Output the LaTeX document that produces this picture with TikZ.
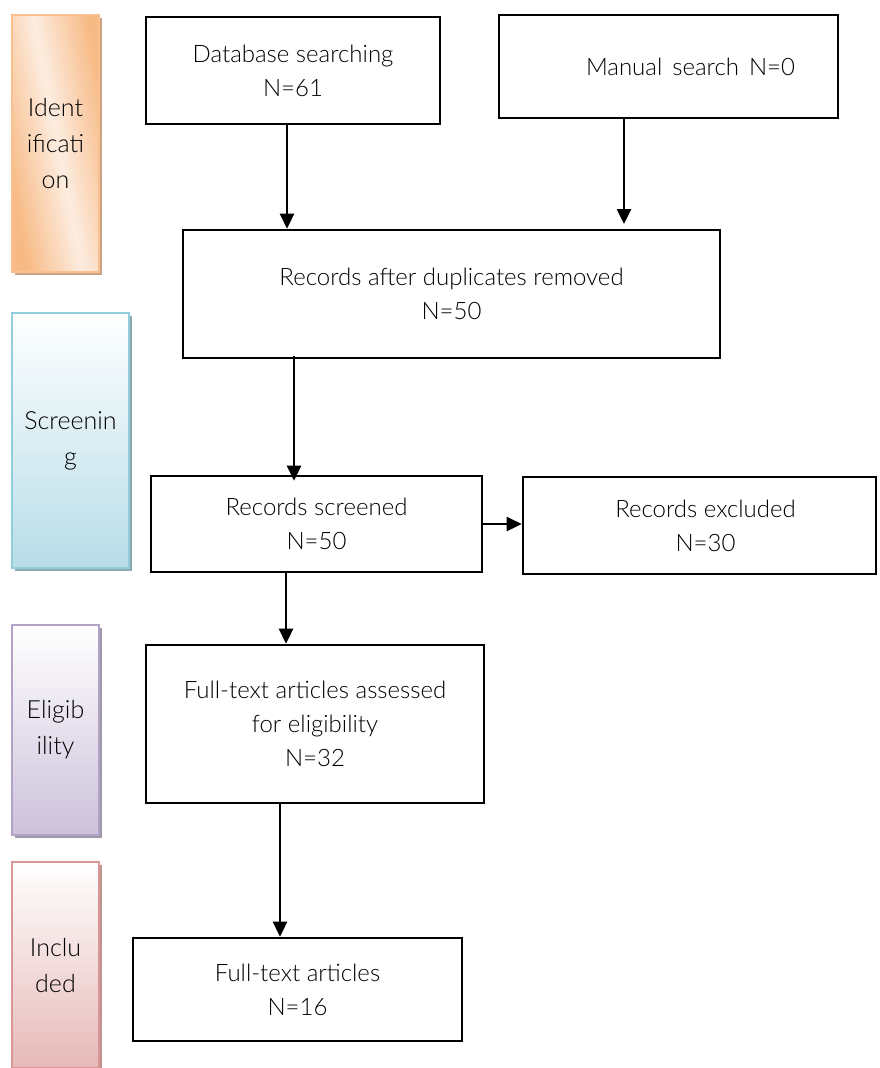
\documentclass[tikz,border=0pt]{standalone}
\usepackage{fontspec}
\setmainfont{Lato Light}
\usetikzlibrary{arrows.meta,positioning}
\definecolor{idOr}{HTML}{F7BA84}
\definecolor{idLt}{HTML}{FDEDE1}
\definecolor{idBd}{HTML}{FAC090}
\definecolor{idSh}{HTML}{C9A383}
\definecolor{scLt}{HTML}{B7DDE8}
\definecolor{scBd}{HTML}{92CDDC}
\definecolor{scSh}{HTML}{8FA7AE}
\definecolor{elLt}{HTML}{CCC1DA}
\definecolor{elBd}{HTML}{B3A2C7}
\definecolor{elSh}{HTML}{9E99A6}
\definecolor{inLt}{HTML}{E6B9B8}
\definecolor{inBd}{HTML}{D99694}
\definecolor{inSh}{HTML}{BE9493}
\tikzset{
  box/.style={draw=black,line width=2.6pt,fill=white,inner sep=0pt,align=center,
    font=\fontsize{24}{34}\selectfont},
  phase/.style={line width=1.5pt,inner sep=0pt,align=center,
    font=\fontsize{25}{36}\selectfont},
  arr/.style={line width=2.6pt,-{Triangle[length=15pt,width=14pt]}}
}
\begin{document}
\begin{tikzpicture}[x=1pt,y=-1pt]
\fill[white] (0,0) rectangle (880,1068);
\useasboundingbox (0,0) rectangle (880,1068);
% phase bars with shadows
\fill[idSh] (15,18) rectangle (102,275);
\begin{scope}
  \clip (12,15) rectangle (99,272);
  \fill[idOr] (12,15) rectangle (99,272);
  \foreach \d in {-81,-78,...,78} {
    \pgfmathsetmacro\p{min(100,abs(\d+1.5)/55*100)}
    \fill[idOr!\p!idLt] (33+\d,15) -- (33.6+\d+3,15) -- (83.6+\d+3,272) -- (83+\d,272) -- cycle;
  }
\end{scope}
\node[phase,draw=idBd,
  minimum width=87pt,minimum height=257pt] (ident) at (55.5,143.5) {Ident\\ificati\\on};
\fill[scSh] (15,316) rectangle (132,571);
\node[phase,draw=scBd,top color=white,bottom color=scLt,
  minimum width=117pt,minimum height=255pt] (screen) at (70.5,440.5) {Screenin\\g};
\fill[elSh] (15,628) rectangle (102,838);
\node[phase,draw=elBd,top color=white,bottom color=elLt,
  minimum width=87pt,minimum height=210pt] (elig) at (55.5,730) {Eligib\\ility};
\fill[inSh] (15,865) rectangle (102,1068);
\node[phase,draw=inBd,top color=white,bottom color=inLt,
  minimum width=87pt,minimum height=206pt] (incl) at (55.5,965) {Inclu\\ded};
% main boxes
\node[box,minimum width=294pt,minimum height=107pt] (db) at (293,70.5) {Database searching\\N=61};
\node[box,minimum width=339pt,minimum height=103pt] (manual) at (668.5,66.5) {\hspace*{44pt}Manual\hspace{10pt}search\hspace{10pt}N=0};
\node[box,minimum width=537pt,minimum height=128pt] (dup) at (451.5,294) {Records after duplicates removed\\N=50};
\node[box,minimum width=331pt,minimum height=96pt] (scr) at (316.5,524) {Records screened\\N=50};
\node[box,minimum width=353pt,minimum height=97pt] (exc) at (699.5,525.5) {\hspace*{12pt}Records excluded\\\hspace*{12pt}N=30};
\node[box,minimum width=338pt,minimum height=158pt] (ft) at (315,724) {Full-text articles assessed\\for eligibility\\N=32};
\node[box,minimum width=329pt,minimum height=103pt] (inc) at (297.5,989.5) {Full-text articles\\N=16};
% connectors
\coordinate (x1) at (287,0);
\coordinate (mend) at (624,224);
\coordinate (x3) at (294,0);
\coordinate (x4) at (286,0);
\coordinate (x5) at (280,0);
\draw[arr] (db.south -| x1) -- (dup.north -| x1);
\draw[arr] (manual.south -| mend) -- (mend);
\draw[arr] ([yshift=3pt]dup.south -| x3) -- ([yshift=-6pt]scr.north -| x3);
\draw[arr] (scr.south -| x4) -- (ft.north -| x4);
\draw[arr] (scr.east) -- (scr.east -| exc.west);
\draw[arr] (ft.south -| x5) -- (inc.north -| x5);
\end{tikzpicture}
\end{document}
